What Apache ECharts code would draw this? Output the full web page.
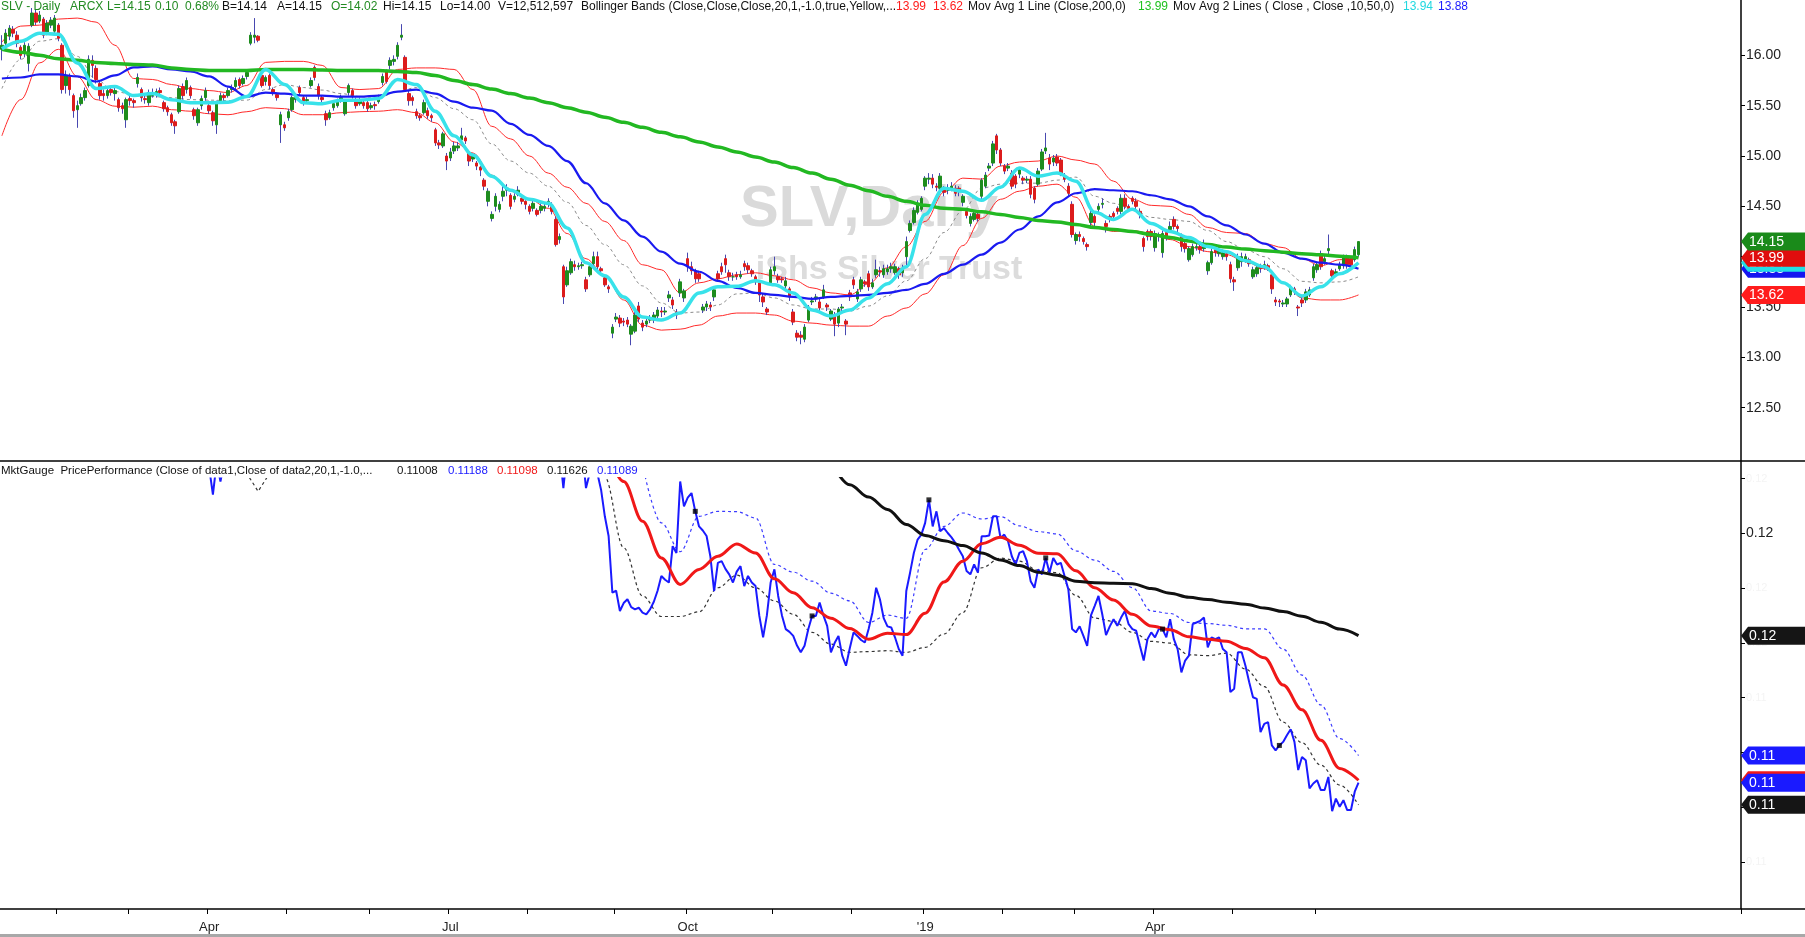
<!DOCTYPE html>
<html>
<head>
<meta charset="utf-8">
<title>SLV Daily</title>
<script src="https://cdn.jsdelivr.net/npm/echarts@6/dist/echarts.min.js"></script>
<style>
html,body{margin:0;padding:0;background:#fff;overflow:hidden}
#chart{width:1805px;height:937px}
</style>
</head>
<body>
<div id="chart"></div>
<script>
// ================= DATA =================
// Daily candles, one per trading day from day 0 (mid Jan 2018) : [open, close, low, high]
const ohlc = [
[16.06,16.10,15.95,16.20],[16.12,16.22,16.08,16.26],[16.19,16.27,16.15,16.30],[16.26,16.22,16.18,16.29],[16.20,16.12,16.08,16.24],
[16.08,16.00,15.96,16.10],[16.02,16.10,15.98,16.13],[15.92,16.09,15.84,16.12],[16.30,16.42,16.28,16.47],[16.42,16.33,16.30,16.45],
[16.34,16.40,16.32,16.44],[16.36,16.20,16.17,16.38],[16.22,16.32,16.20,16.35],[16.30,16.35,16.27,16.38],[16.24,16.37,16.22,16.40],
[16.30,16.17,16.14,16.32],[16.10,15.66,15.62,16.12],[15.70,15.80,15.62,15.85],[15.79,15.66,15.60,15.82],[15.60,15.45,15.38,15.62],
[15.46,15.50,15.28,15.55],[15.52,15.58,15.50,15.62],[15.58,15.65,15.55,15.68],[15.70,15.96,15.68,16.00],[15.95,15.90,15.78,16.00],
[15.87,15.76,15.72,15.90],[15.72,15.60,15.56,15.75],[15.62,15.60,15.55,15.66],[15.60,15.65,15.57,15.68],[15.66,15.63,15.60,15.69],
[15.62,15.65,15.55,15.69],[15.56,15.48,15.44,15.58],[15.50,15.47,15.42,15.53],[15.36,15.56,15.28,15.58],[15.57,15.55,15.50,15.60],
[15.55,15.53,15.48,15.57],[15.72,15.78,15.68,15.82],[15.66,15.58,15.54,15.68],[15.57,15.56,15.52,15.60],[15.53,15.63,15.50,15.66],
[15.60,15.63,15.58,15.67],[15.62,15.64,15.58,15.67],[15.65,15.63,15.60,15.68],[15.53,15.47,15.44,15.55],[15.48,15.44,15.40,15.50],
[15.41,15.33,15.30,15.43],[15.34,15.30,15.22,15.36],[15.44,15.67,15.42,15.70],[15.69,15.60,15.56,15.72],[15.66,15.75,15.62,15.78],
[15.68,15.60,15.57,15.70],[15.46,15.40,15.36,15.48],[15.33,15.46,15.30,15.48],[15.50,15.57,15.46,15.60],[15.58,15.65,15.55,15.68],
[15.50,15.45,15.42,15.55],[15.43,15.35,15.30,15.45],[15.31,15.53,15.22,15.55],[15.55,15.60,15.52,15.63],[15.60,15.58,15.55,15.62],
[15.60,15.65,15.58,15.68],[15.66,15.68,15.63,15.71],[15.69,15.75,15.66,15.78],[15.76,15.70,15.67,15.78],[15.72,15.77,15.70,15.80],
[15.79,15.83,15.76,15.86],[16.12,16.20,16.10,16.23],[16.18,16.20,16.12,16.37],[16.19,16.15,16.13,16.20],[15.80,15.70,15.68,15.83],
[15.74,15.78,15.70,15.80],[15.80,15.70,15.66,15.82],[15.66,15.62,15.60,15.68],[15.61,15.58,15.55,15.63],[15.31,15.41,15.13,15.44],
[15.31,15.28,15.25,15.34],[15.38,15.44,15.35,15.47],[15.46,15.58,15.44,15.60],[15.56,15.58,15.53,15.62],[15.68,15.63,15.60,15.70],
[15.58,15.54,15.50,15.60],[15.55,15.56,15.52,15.59],[15.70,15.75,15.68,15.78],[15.88,15.78,15.75,15.90],[15.69,15.60,15.56,15.72],
[15.58,15.56,15.52,15.60],[15.42,15.36,15.30,15.45],[15.38,15.43,15.36,15.46],[15.48,15.52,15.45,15.55],[15.50,15.54,15.48,15.57],
[15.56,15.58,15.53,15.61],[15.42,15.54,15.40,15.56],[15.63,15.70,15.60,15.72],[15.65,15.60,15.57,15.67],[15.56,15.50,15.47,15.58],
[15.52,15.55,15.50,15.58],[15.53,15.50,15.47,15.56],[15.53,15.47,15.44,15.55],[15.48,15.50,15.46,15.53],[15.51,15.50,15.46,15.54],
[15.54,15.58,15.52,15.61],[15.73,15.79,15.70,15.82],[15.84,15.74,15.72,15.86],[15.90,15.95,15.86,15.98],[15.94,15.96,15.90,16.00],
[15.99,16.10,15.96,16.13],[16.18,16.20,16.15,16.31],[15.98,15.66,15.64,16.00],[15.62,15.55,15.50,15.65],[15.58,15.55,15.50,15.60],
[15.44,15.40,15.37,15.47],[15.40,15.38,15.35,15.42],[15.43,15.53,15.41,15.56],[15.45,15.40,15.37,15.48],[15.40,15.38,15.34,15.42],
[15.26,15.13,15.10,15.28],[15.13,15.11,15.07,15.16],[15.10,15.22,15.08,15.24],[15.00,14.95,14.86,15.03],[14.98,15.04,14.95,15.08],
[15.05,15.10,15.02,15.14],[15.08,15.10,15.05,15.14],[15.16,15.20,15.12,15.28],[15.18,15.15,15.12,15.20],[15.03,14.95,14.90,15.06],
[14.97,15.00,14.94,15.03],[14.93,14.90,14.86,14.95],[14.89,14.86,14.80,14.90],[14.76,14.70,14.66,14.78],[14.55,14.65,14.50,14.68],
[14.38,14.42,14.35,14.45],[14.50,14.60,14.45,14.63],[14.47,14.52,14.44,14.55],[14.60,14.65,14.55,14.72],[14.66,14.68,14.60,14.72],
[14.61,14.50,14.47,14.63],[14.57,14.60,14.54,14.63],[14.62,14.66,14.60,14.70],[14.58,14.55,14.52,14.60],[14.55,14.52,14.47,14.56],
[14.50,14.45,14.42,14.52],[14.48,14.53,14.45,14.56],[14.46,14.42,14.40,14.48],[14.46,14.50,14.43,14.53],[14.48,14.50,14.45,14.53],
[14.52,14.55,14.49,14.58],[14.50,14.45,14.42,14.54],[14.37,14.12,14.10,14.40],[14.17,14.20,14.13,14.23],[13.90,13.60,13.53,13.92],
[13.72,13.86,13.70,13.90],[13.84,13.95,13.82,13.98],[13.92,13.90,13.86,13.96],[13.90,13.91,13.87,13.94],[13.91,13.92,13.88,13.95],
[13.77,13.68,13.65,13.80],[13.82,13.90,13.80,13.94],[13.93,14.00,13.90,14.05],[14.00,13.90,13.86,14.05],[13.88,13.86,13.82,13.90],
[13.79,13.72,13.70,13.82],[13.70,13.68,13.64,13.72],[13.24,13.30,13.19,13.33],[13.38,13.40,13.35,13.44],[13.39,13.34,13.30,13.42],
[13.36,13.35,13.31,13.39],[13.37,13.33,13.30,13.40],[13.23,13.31,13.12,13.33],[13.26,13.42,13.24,13.45],[13.51,13.38,13.35,13.55],
[13.34,13.30,13.26,13.37],[13.33,13.36,13.30,13.40],[13.37,13.38,13.34,13.42],[13.37,13.42,13.34,13.45],[13.41,13.47,13.38,13.50],
[13.46,13.45,13.40,13.50],[13.45,13.46,13.42,13.50],[13.59,13.62,13.55,13.66],[13.57,13.52,13.48,13.60],[13.45,13.42,13.38,13.48],
[13.64,13.75,13.60,13.78],[13.59,13.66,13.55,13.68],[13.98,13.90,13.85,14.04],[13.90,13.86,13.82,13.95],[13.85,13.78,13.74,13.88],
[13.83,13.78,13.75,13.86],[13.47,13.50,13.44,13.53],[13.50,13.53,13.46,13.56],[13.52,13.50,13.46,13.55],[13.60,13.67,13.56,13.70],
[13.83,13.78,13.75,13.86],[13.90,13.85,13.82,13.94],[13.98,13.92,13.84,14.02],[13.84,13.80,13.76,13.87],[13.80,13.80,13.76,13.84],
[13.82,13.80,13.77,13.85],[13.80,13.82,13.78,13.86],[13.93,13.90,13.86,13.96],[13.91,13.87,13.83,13.94],[13.86,13.83,13.80,13.88],
[13.80,13.75,13.72,13.82],[13.74,13.62,13.55,13.76],[13.60,13.55,13.50,13.63],[13.48,13.45,13.42,13.50],[13.74,13.87,13.72,13.90],
[13.86,13.90,13.82,14.00],[13.80,13.77,13.74,13.83],[13.78,13.77,13.74,13.80],[13.71,13.76,13.68,13.80],[13.68,13.60,13.56,13.70],
[13.45,13.35,13.32,13.48],[13.24,13.20,13.16,13.27],[13.22,13.20,13.13,13.26],[13.18,13.30,13.15,13.33],[13.37,13.50,13.35,13.52],
[13.55,13.56,13.52,13.60],[13.58,13.60,13.55,13.63],[13.55,13.49,13.45,13.58],[13.60,13.67,13.58,13.72],[13.52,13.50,13.46,13.54],
[13.38,13.46,13.36,13.48],[13.42,13.33,13.21,13.45],[13.34,13.48,13.30,13.50],[13.49,13.50,13.45,13.53],[13.36,13.33,13.22,13.38],
[13.64,13.60,13.56,13.67],[13.77,13.72,13.68,13.80],[13.58,13.65,13.55,13.68],[13.68,13.77,13.65,13.80],[13.75,13.73,13.70,13.77],
[13.83,13.70,13.66,13.86],[13.70,13.74,13.68,13.78],[13.82,13.87,13.79,13.97],[13.86,13.85,13.80,13.90],[13.82,13.88,13.79,13.92],
[13.85,13.88,13.82,13.92],[13.88,13.90,13.84,13.94],[13.84,13.90,13.82,13.93],[13.88,13.82,13.78,13.90],[13.84,13.88,13.80,13.92],
[14.00,14.15,13.90,14.20],[14.26,14.33,14.24,14.36],[14.34,14.46,14.32,14.49],[14.44,14.53,14.42,14.56],[14.47,14.58,14.45,14.60],
[14.70,14.78,14.66,14.80],[14.77,14.78,14.72,14.83],[14.78,14.72,14.68,14.82],[14.70,14.69,14.65,14.73],[14.68,14.80,14.65,14.83],
[14.68,14.64,14.60,14.70],[14.66,14.68,14.62,14.72],[14.68,14.70,14.65,14.74],[14.68,14.63,14.60,14.71],[14.68,14.65,14.60,14.70],
[14.54,14.60,14.50,14.62],[14.45,14.41,14.38,14.48],[14.33,14.40,14.30,14.43],[14.37,14.43,14.35,14.46],[14.42,14.38,14.35,14.45],
[14.60,14.76,14.57,14.78],[14.70,14.81,14.68,14.84],[14.88,14.90,14.85,14.93],[14.93,15.12,14.90,15.15],[15.20,15.06,15.02,15.22],
[15.06,14.93,14.90,15.08],[14.90,14.85,14.82,14.92],[14.88,14.90,14.85,14.93],[14.83,14.70,14.67,14.86],[14.80,14.72,14.68,14.82],
[14.82,14.86,14.78,14.89],[14.78,14.76,14.72,14.80],[14.76,14.77,14.73,14.80],[14.77,14.62,14.58,14.80],[14.68,14.57,14.53,14.70],
[14.72,14.85,14.70,14.88],[14.87,15.04,14.85,15.07],[15.05,15.08,15.02,15.23],[14.98,14.92,14.86,15.02],[14.94,14.98,14.90,15.01],
[14.99,14.93,14.90,15.02],[14.96,14.83,14.80,14.98],[14.80,14.77,14.74,14.83],[14.70,14.63,14.60,14.73],[14.52,14.22,14.19,14.55],
[14.16,14.22,14.12,14.24],[14.22,14.20,14.15,14.25],[14.18,14.15,14.12,14.20],[14.12,14.10,14.06,14.14],[14.34,14.43,14.30,14.46],
[14.40,14.34,14.28,14.42],[14.47,14.50,14.44,14.53],[14.52,14.53,14.48,14.58],[14.33,14.30,14.24,14.36],[14.40,14.38,14.34,14.42],
[14.43,14.40,14.37,14.45],[14.48,14.45,14.42,14.50],[14.45,14.58,14.42,14.62],[14.58,14.50,14.47,14.62],[14.50,14.48,14.45,14.52],
[14.58,14.55,14.52,14.60],[14.55,14.50,14.46,14.58],[14.45,14.42,14.38,14.48],[14.18,14.10,14.05,14.20],[14.25,14.20,14.16,14.27],
[14.25,14.20,14.16,14.27],[14.09,14.23,14.05,14.26],[14.22,14.20,14.15,14.24],[14.04,14.23,13.99,14.26],[14.24,14.20,14.16,14.26],
[14.27,14.30,14.25,14.35],[14.37,14.30,14.27,14.40],[14.30,14.28,14.24,14.32],[14.20,14.10,14.05,14.23],[14.13,14.08,14.04,14.15],
[13.97,14.08,13.95,14.10],[14.02,14.10,14.00,14.13],[14.09,14.10,14.06,14.13],[14.10,14.07,14.03,14.12],[14.08,14.10,14.05,14.17],
[13.86,13.94,13.82,13.96],[13.94,14.05,13.92,14.08],[14.07,14.04,14.00,14.10],[14.03,14.06,14.00,14.10],[14.00,14.04,13.97,14.07],
[14.03,14.00,13.96,14.05],[13.92,13.78,13.74,13.95],[13.77,13.75,13.66,13.80],[13.89,14.00,13.86,14.03],[13.95,14.00,13.90,14.04],
[13.97,14.00,13.94,14.03],[13.97,13.93,13.90,13.99],[13.80,13.87,13.78,13.90],[13.83,13.89,13.80,13.92],[13.90,13.88,13.84,13.93],
[13.90,13.92,13.87,13.96],[13.91,13.89,13.86,13.93],[13.82,13.68,13.63,13.85],[13.57,13.55,13.51,13.60],[13.56,13.55,13.50,13.58],
[13.53,13.54,13.50,13.57],[13.53,13.58,13.50,13.60],[13.62,13.70,13.60,13.72],[13.68,13.66,13.62,13.70],[13.50,13.49,13.41,13.52],
[13.57,13.54,13.50,13.60],[13.57,13.65,13.54,13.68],[13.62,13.67,13.60,13.70],[13.79,13.90,13.76,13.93],[13.87,13.92,13.84,13.95],
[14.03,13.90,13.87,14.06],[13.95,13.98,13.92,14.01],[14.06,14.08,14.02,14.22],[13.86,13.81,13.78,13.88],[13.83,13.85,13.80,13.88],
[13.88,13.92,13.86,13.95],[13.91,13.99,13.88,14.02],[13.99,13.92,13.88,14.02],[13.98,13.92,13.88,14.00],[13.97,14.07,13.95,14.10],
[14.02,14.15,14.00,14.15]
];

// Upper-pane indicator lines, read every 5 trading days starting at day 0
const lineStep = 5;
const ma200 = [16.06,16.03,16.00,15.965,15.95,15.93,15.92,15.91,15.905,15.875,
15.86,15.85,15.85,15.85,15.86,15.86,15.86,15.855,15.85,15.85,
15.85,15.84,15.83,15.80,15.75,15.71,15.665,15.62,15.575,15.53,
15.48,15.435,15.385,15.335,15.285,15.235,15.19,15.14,15.09,15.04,
14.99,14.94,14.885,14.83,14.77,14.71,14.655,14.60,14.55,14.51,
14.48,14.47,14.445,14.42,14.39,14.36,14.345,14.32,14.29,14.27,
14.25,14.22,14.19,14.155,14.12,14.095,14.075,14.06,14.045,14.03,
14.02,14.005,13.99];
const ma50 = [15.77,15.78,15.81,15.81,15.79,15.74,15.80,15.88,15.89,15.86,
15.84,15.79,15.69,15.59,15.63,15.62,15.60,15.60,15.59,15.59,
15.60,15.64,15.66,15.62,15.54,15.48,15.45,15.32,15.21,15.10,
14.95,14.73,14.53,14.36,14.20,14.05,13.93,13.85,13.76,13.69,
13.64,13.62,13.60,13.58,13.60,13.61,13.62,13.64,13.67,13.73,
13.83,13.92,14.02,14.14,14.27,14.40,14.54,14.63,14.67,14.66,
14.65,14.61,14.57,14.50,14.40,14.31,14.22,14.13,14.04,13.98,
13.94,13.92,13.88];
const ma10 = [16.065,16.14,16.22,16.21,15.925,15.67,15.69,15.60,15.62,15.56,
15.53,15.53,15.535,15.59,15.86,15.71,15.53,15.52,15.555,15.555,
15.57,15.76,15.71,15.445,15.20,15.01,14.80,14.66,14.57,14.53,
14.285,13.94,13.81,13.60,13.40,13.37,13.44,13.64,13.70,13.705,
13.76,13.72,13.64,13.47,13.41,13.47,13.59,13.73,13.90,14.42,
14.68,14.65,14.56,14.69,14.88,14.80,14.83,14.75,14.44,14.37,
14.47,14.33,14.25,14.19,14.10,14.05,13.96,13.90,13.74,13.61,
13.70,13.83,13.94];
const bbUpper = [16.13,16.29,16.30,16.36,16.37,16.33,16.10,15.77,15.76,15.71,
15.67,15.65,15.63,15.70,15.93,15.94,15.94,15.90,15.68,15.66,
15.67,15.86,15.875,15.875,15.86,15.66,15.295,15.17,15.00,14.83,
14.69,14.53,14.35,14.16,13.92,13.87,13.64,13.74,13.78,13.82,
13.84,13.81,13.77,13.69,13.64,13.62,13.73,13.89,14.10,14.35,
14.64,14.78,14.77,14.90,14.94,14.95,15.00,14.96,14.92,14.75,
14.57,14.51,14.50,14.42,14.29,14.24,14.23,14.13,14.09,13.98,
13.91,13.97,13.99];
const bbLower = [15.20,15.56,15.925,16.06,15.79,15.56,15.495,15.485,15.495,15.46,
15.445,15.42,15.41,15.44,15.48,15.47,15.41,15.41,15.43,15.44,
15.445,15.46,15.43,15.33,15.14,15.03,14.81,14.65,14.57,14.48,
14.23,13.98,13.81,13.57,13.32,13.27,13.28,13.32,13.41,13.44,
13.44,13.42,13.36,13.34,13.32,13.31,13.31,13.41,13.49,13.63,
13.82,14.11,14.38,14.57,14.65,14.70,14.72,14.59,14.30,14.25,
14.26,14.23,14.17,14.10,14.05,14.02,13.95,13.88,13.74,13.59,
13.57,13.57,13.62];
const bbMid = [15.67,15.96,16.14,16.165,15.99,15.76,15.64,15.61,15.59,15.58,
15.56,15.555,15.55,15.555,15.66,15.71,15.68,15.655,15.62,15.59,
15.58,15.64,15.68,15.58,15.47,15.36,15.12,14.95,14.83,14.70,
14.54,14.31,14.12,13.92,13.71,13.54,13.44,13.45,13.52,13.63,
13.64,13.59,13.52,13.48,13.48,13.46,13.51,13.61,13.76,13.98,
14.24,14.46,14.68,14.72,14.73,14.73,14.76,14.79,14.60,14.53,
14.47,14.39,14.37,14.35,14.26,14.15,14.07,14.00,13.88,13.755,
13.74,13.75,13.80];

// Lower pane: SLV / data2 price ratio (daily from day 148) and its bands
const ratioStart = 148;
const ratio = [
0.1230,0.12165,0.1230,0.1230,0.1230,0.1230,0.1230,0.12165,0.1222,0.1221,
0.1222,0.12159,0.12062,0.11990,0.11783,0.11790,0.11716,0.11745,0.11759,0.11730,
0.11722,0.11728,0.11710,0.11704,0.11722,0.11750,0.11790,0.11844,0.11830,0.11820,
0.11953,0.11928,0.12189,0.12098,0.12130,0.12147,0.12080,0.12025,0.12010,0.11990,
0.11916,0.11789,0.11892,0.11898,0.11870,0.11850,0.11820,0.11860,0.11880,0.11807,
0.11844,0.11820,0.11807,0.11698,0.11620,0.11700,0.11820,0.11868,0.11771,0.11700,
0.11650,0.11640,0.11625,0.11590,0.11565,0.11589,0.11650,0.11698,0.11698,0.11747,
0.11700,0.11662,0.11565,0.11600,0.11625,0.11553,0.11516,0.11580,0.11638,0.11625,
0.11610,0.11601,0.11650,0.11710,0.11801,0.11759,0.11690,0.11660,0.11656,0.11620,
0.11577,0.11553,0.11789,0.11856,0.11928,0.11977,0.11995,0.12038,0.12122,0.12025,
0.12080,0.12007,0.12019,0.12001,0.11985,0.11965,0.11940,0.11916,0.11862,0.11850,
0.11886,0.11856,0.11989,0.11989,0.11992,0.12062,0.12062,0.11983,0.11995,0.11971,
0.11916,0.11886,0.11928,0.11935,0.11898,0.11825,0.11801,0.11868,0.11850,0.11910,
0.11856,0.11910,0.11886,0.11892,0.11844,0.11795,0.11650,0.11638,0.11660,0.11625,
0.11589,0.11700,0.11735,0.11771,0.11704,0.11628,0.11660,0.11686,0.11662,0.11692,
0.11716,0.11668,0.11650,0.11644,0.11589,0.11535,0.11613,0.11638,0.11620,0.11650,
0.11650,0.11620,0.11686,0.11613,0.11577,0.11492,0.11535,0.11553,0.11668,0.11674,
0.11680,0.11692,0.11583,0.11620,0.11613,0.11620,0.11577,0.11565,0.11420,0.11432,
0.11565,0.11565,0.11516,0.11456,0.11401,0.11395,0.11274,0.11304,0.11310,0.11225,
0.11207,0.11225,0.11238,0.11262,0.11284,0.11238,0.11135,0.11183,0.11171,0.11068,
0.11086,0.11098,0.11062,0.11062,0.11110,0.10985,0.11031,0.11001,0.11025,0.10989,
0.10989,0.11056,0.11089];
const ratioSpikeStart = 55;                 // short dip visible near Apr 2018
const ratioSpike = [0.1224,0.12141,0.1226,0.12189,0.1226];
const ratioMAStart = 160;                   // 20-day average (red), every 5 days
const ratioMA = [0.1232,0.12189,0.12044,0.11910,0.11813,0.11868,0.11916,0.11961,0.11928,0.11834,
0.11783,0.11728,0.11690,0.11652,0.11613,0.11635,0.11630,0.11708,0.11822,0.11898,
0.11962,0.11985,0.11956,0.11927,0.11925,0.11863,0.11801,0.11756,0.11704,0.11661,
0.11648,0.11622,0.11613,0.11606,0.11579,0.11545,0.11446,0.11355,0.11244,0.11141,
0.11098];
const ratioUpperStart = 170;                // +1 band (blue dotted)
const ratioUpper = [0.1225,0.12038,0.11933,0.12062,0.12080,0.12079,0.12056,0.11886,0.11858,0.11825,
0.11781,0.11753,0.11674,0.11701,0.11689,0.11941,0.12025,0.12074,0.12052,0.12061,
0.12027,0.12006,0.11998,0.11936,0.11902,0.11861,0.11801,0.11716,0.11707,0.11674,
0.11670,0.11664,0.11651,0.11651,0.11577,0.11482,0.11373,0.11250,0.11188];
const ratioLowerStart = 155;                // -1 band (black dotted)
const ratioLower = [0.1230,0.12205,0.11947,0.11771,0.11696,0.11696,0.11713,0.11801,0.11847,0.11801,
0.11753,0.11704,0.11638,0.11595,0.11565,0.11568,0.11571,0.11565,0.11583,0.11632,
0.11710,0.11874,0.11909,0.11898,0.11865,0.11856,0.11773,0.11690,0.11678,0.11638,
0.11605,0.11599,0.11556,0.11553,0.11562,0.11504,0.11440,0.11310,0.11235,0.11153,
0.11080,0.11008];
const ratioLowerSpikeStart = 64, ratioLowerSpikeStep = 4;
const ratioLowerSpike = [0.1224,0.12153,0.1224];
const ratio200Start = 220;                  // long average (black thick)
const ratio200 = [0.1226,0.12177,0.12132,0.12087,0.12032,0.11992,0.11973,0.11955,0.11928,0.11902,
0.11882,0.11858,0.11847,0.11825,0.11819,0.11817,0.11816,0.11798,0.11781,0.11766,
0.11758,0.11748,0.11741,0.11727,0.11714,0.11697,0.11675,0.11650,0.11626];
const markerDays = [184,215,246,277,308,339];

// Axis
const totalSlots = 462;
const monthStartDays = [15,34,55,76,98,119,140,163,182,205,226,245,266,285,306,327,349];
const quarterDays = [55,119,182,245,306];
const quarterLabels = ['Apr','Jul','Oct',"'19",'Apr'];
const upperTicks = [12.0, 16.5, 0.5];        // min, max, step
const lowerTicks = [0.108, 0.122, 0.002];

// Last-value tags (values from the legend lines)
const upperTagValues = [13.88, 13.94, 13.62, 13.99, 14.15];
const upperTagColors = ['#1515f0', '#22dde6', '#ff1c1c', '#e00d0d', '#1a8a1a'];
const lowerTagValues = [0.11626, 0.11188, 0.11098, 0.11089, 0.11008];
const lowerTagColors = ['#151515', '#1a1aff', '#f01818', '#1a1aff', '#151515'];

// ================= CHART =================
const cats = Array.from({length: totalSlots}, (_, i) => String(i));
const pairs = (start, step, arr) => arr.map((v, k) => [start + k * step, v]);
const monthSet = new Set(monthStartDays);
const quarterMap = new Map(quarterDays.map((d, k) => [d, quarterLabels[k]]));
const bodies = ohlc.map(r => [r[0], r[1], Math.min(r[0], r[1]), Math.max(r[0], r[1])]);

const FONT = '"Liberation Sans", Arial, sans-serif';
const upTop = 5, upH = 453;
const loTop = 478.5, loH = 383.3;

const lineS = (name, data, color, width, extra) => Object.assign({
  name, type: 'line', xAxisIndex: 0, yAxisIndex: 0, data, showSymbol: false, symbol: 'none',
  smooth: 0.35, smoothMonotone: 'x', lineStyle: {color, width}, silent: true, z: 3
}, extra || {});

const option = {
  animation: false,
  backgroundColor: '#ffffff',
  grid: [
    {left: 0, right: 64, top: upTop, height: upH},
    {left: 0, right: 64, top: loTop, height: loH}
  ],
  xAxis: [
    {type: 'category', gridIndex: 0, data: cats, boundaryGap: true, show: false},
    {type: 'category', gridIndex: 1, data: cats, boundaryGap: true, offset: 909 - (loTop + loH),
      axisLine: {show: false},
      axisTick: {show: true, length: 5, interval: (i) => monthSet.has(i), lineStyle: {color: '#000', width: 1}},
      axisLabel: {interval: (i) => quarterMap.has(i), formatter: (v, i) => quarterMap.get(i) || '',
        color: '#222', fontSize: 13, fontFamily: FONT, margin: 12},
      splitLine: {show: false}}
  ],
  yAxis: [
    {type: 'value', gridIndex: 0, position: 'right', min: upperTicks[0], max: upperTicks[1], interval: upperTicks[2],
      axisLine: {show: false}, splitLine: {show: false},
      axisTick: {show: true, length: 4, lineStyle: {color: '#000'}},
      axisLabel: {showMinLabel: false, showMaxLabel: false, formatter: v => v.toFixed(2),
        color: '#222', fontSize: 14, fontFamily: FONT, margin: 5}},
    {type: 'value', gridIndex: 1, position: 'right', min: lowerTicks[0], max: lowerTicks[1], interval: lowerTicks[2],
      axisLine: {show: false}, splitLine: {show: false},
      axisTick: {show: true, length: 4, lineStyle: {color: '#000'}},
      axisLabel: {formatter: v => (Math.abs(v - 0.12) < 1e-7 ? '{b|' : '{f|') + v.toFixed(2) + '}',
        fontFamily: FONT, margin: 5,
        rich: {b: {color: '#222', fontSize: 14, fontFamily: FONT}, f: {color: '#f4f4f4', fontSize: 11, fontFamily: FONT}}}}
  ],
  series: [
    lineS('BB mid', pairs(0, lineStep, bbMid), '#8c8c8c', 1, {lineStyle: {color: '#8c8c8c', width: 1, type: [3, 3]}, z: 2}),
    lineS('BB upper', pairs(0, lineStep, bbUpper), '#ff2a2a', 1, {z: 2}),
    lineS('BB lower', pairs(0, lineStep, bbLower), '#ff2a2a', 1, {z: 2}),
    {name: 'wicks', type: 'candlestick', xAxisIndex: 0, yAxisIndex: 0, data: ohlc, barWidth: 1, silent: true, z: 2,
      itemStyle: {color: '#4848b0', color0: '#4848b0', borderColor: '#4848b0', borderColor0: '#4848b0', borderColorDoji: '#4848b0', borderWidth: 1}},
    {name: 'bodies', type: 'candlestick', xAxisIndex: 0, yAxisIndex: 0, data: bodies, barWidth: 3, silent: true, z: 2,
      itemStyle: {color: '#1e8c1e', color0: '#dc1c1c', borderColor: '#1e8c1e', borderColor0: '#dc1c1c', borderColorDoji: '#1e8c1e', borderWidth: 1}},
    lineS('MA50', pairs(0, lineStep, ma50), '#1a1af0', 2.2),
    lineS('MA200', pairs(0, lineStep, ma200), '#22b822', 3.5),
    lineS('MA10', pairs(0, lineStep, ma10), '#38e2ea', 3.5),

    lineS('ratio -1', pairs(ratioLowerStart, lineStep, ratioLower), '#333', 1.2,
      {xAxisIndex: 1, yAxisIndex: 1, lineStyle: {color: '#333', width: 1.2, type: [3, 3]}}),
    lineS('ratio -1 early', pairs(ratioLowerSpikeStart, ratioLowerSpikeStep, ratioLowerSpike), '#333', 1.2,
      {xAxisIndex: 1, yAxisIndex: 1, smooth: false, lineStyle: {color: '#333', width: 1.2, type: [3, 3]}}),
    lineS('ratio +1', pairs(ratioUpperStart, lineStep, ratioUpper), '#3c3cff', 1.2,
      {xAxisIndex: 1, yAxisIndex: 1, lineStyle: {color: '#3c3cff', width: 1.2, type: [3, 3]}}),
    lineS('ratio', pairs(ratioStart, 1, ratio), '#1a1aff', 2, {xAxisIndex: 1, yAxisIndex: 1, smooth: false}),
    lineS('ratio early', pairs(ratioSpikeStart, 1, ratioSpike), '#1a1aff', 2, {xAxisIndex: 1, yAxisIndex: 1, smooth: false}),
    lineS('ratio MA', pairs(ratioMAStart, lineStep, ratioMA), '#f01818', 3, {xAxisIndex: 1, yAxisIndex: 1}),
    lineS('ratio long MA', pairs(ratio200Start, lineStep, ratio200), '#111', 3, {xAxisIndex: 1, yAxisIndex: 1}),
    {name: 'marks', type: 'scatter', xAxisIndex: 1, yAxisIndex: 1, symbol: 'rect', symbolSize: 5, silent: true, z: 5,
      itemStyle: {color: '#000'}, data: markerDays.map(d => [d, ratio[d - ratioStart]])}
  ]
};

const chart = echarts.init(document.getElementById('chart'), null, {renderer: 'canvas'});
chart.setOption(option);

// ---------- overlay graphics: frame, headers, watermark, value tags ----------
const G = [];
// watermark
G.push({type: 'text', z: 0, x: 869, y: 210, silent: true,
  style: {text: 'SLV,Daily', fill: '#dadada', font: 'bold 58px ' + FONT, textAlign: 'center', textVerticalAlign: 'middle', align: 'center', verticalAlign: 'middle'}});
G.push({type: 'text', z: 0, x: 889, y: 270, silent: true,
  style: {text: 'iShs Silver Trust', fill: '#dcdcdc', font: 'bold 34px ' + FONT, textAlign: 'center', textVerticalAlign: 'middle', align: 'center', verticalAlign: 'middle'}});
// frame lines
const ln = (x1, y1, x2, y2, c, w) => ({type: 'line', z: 50, silent: true, shape: {x1, y1, x2, y2}, style: {stroke: c, lineWidth: w}});
G.push(ln(0, 461, 1805, 461, '#000', 1.5));
G.push(ln(1741, 0, 1741, 909, '#000', 1.5));
G.push(ln(0, 909, 1805, 909, '#000', 1.5));
G.push({type: 'rect', z: 50, silent: true, shape: {x: 0, y: 934, width: 1805, height: 3}, style: {fill: '#a8a8a8'}});

// header texts
const GREEN = '#228b22', BLACK = '#111';
const upperHeader = [
  [0, 'SLV - Daily', GREEN], [69, 'ARCX', GREEN], [106, 'L=14.15', GREEN], [154, '0.10', GREEN], [184, '0.68%', GREEN],
  [221, 'B=14.14', BLACK], [276, 'A=14.15', BLACK], [330, 'O=14.02', GREEN], [382, 'Hi=14.15', BLACK],
  [439, 'Lo=14.00', BLACK], [497, 'V=12,512,597', BLACK],
  [580, 'Bollinger Bands (Close,Close,Close,20,1,-1.0,true,Yellow,...', BLACK],
  [895, '13.99', '#ff1c1c'], [932, '13.62', '#ff1c1c'],
  [967, 'Mov Avg 1 Line (Close,200,0)', BLACK], [1137, '13.99', '#1fc21f'],
  [1172, 'Mov Avg 2 Lines ( Close , Close ,10,50,0)', BLACK], [1402, '13.94', '#22d8e0'], [1437, '13.88', '#1a1aff']
];
const lowerHeader = [
  [0, 'MktGauge  PricePerformance (Close of data1,Close of data2,20,1,-1.0,...', BLACK],
  [396, '0.11008', BLACK], [447, '0.11188', '#1a1aff'], [496, '0.11098', '#f01818'],
  [546, '0.11626', BLACK], [596, '0.11089', '#1a1aff']
];
const hText = (x, y, t, c, size) => ({type: 'text', z: 60, x, y, silent: true,
  style: {text: t, fill: c, font: size + 'px ' + FONT, textAlign: 'left', textVerticalAlign: 'middle', align: 'left', verticalAlign: 'middle'}});
upperHeader.forEach(h => G.push(hText(h[0] + 1, 7, h[1], h[2], 12)));
lowerHeader.forEach(h => G.push(hText(h[0] + 1, 471, h[1], h[2], 11.5)));

// value tags at the right axis
function tag(y, color, label, z) {
  return {type: 'group', z, silent: true, children: [
    {type: 'polygon', z, shape: {points: [[1741, y], [1748, y - 9], [1805, y - 9], [1805, y + 9], [1748, y + 9]]}, style: {fill: color}},
    {type: 'text', z: z + 1, x: 1749, y: y + 0.5, style: {text: label, fill: '#fff', font: '14px ' + FONT,
      textAlign: 'left', textVerticalAlign: 'middle', align: 'left', verticalAlign: 'middle'}}
  ]};
}
upperTagValues.forEach((v, k) => {
  const y = chart.convertToPixel({yAxisIndex: 0}, v);
  G.push(tag(y, upperTagColors[k], v.toFixed(2), 70 + 2 * k));
});
lowerTagValues.forEach((v, k) => {
  const y = chart.convertToPixel({yAxisIndex: 1}, v);
  G.push(tag(y, lowerTagColors[k], v.toFixed(2), 70 + 2 * k));
});

chart.setOption({graphic: G});
</script>
</body>
</html>
